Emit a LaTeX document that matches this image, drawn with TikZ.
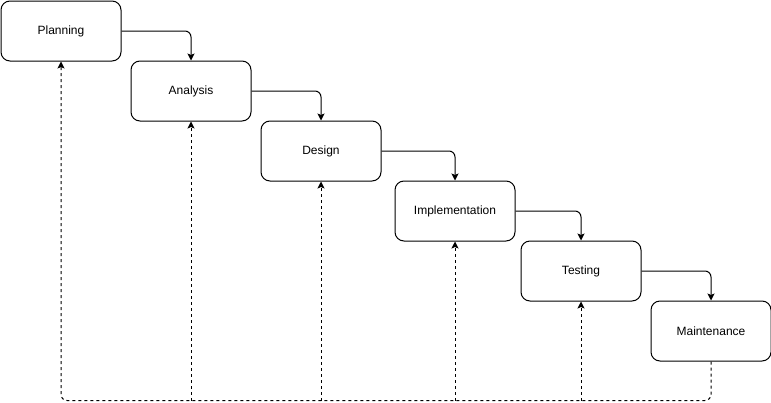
\documentclass[tikz,border=0pt]{standalone}
\usepackage{fontspec}
\setmainfont{Liberation Sans}
\usetikzlibrary{arrows.meta}
\begin{document}
\begin{tikzpicture}[x=1pt,y=-1pt,
  stage/.style={draw, line width=1pt, rounded corners=9pt, minimum width=120pt, minimum height=60pt,
    inner sep=0pt, font=\fontsize{12}{14}\selectfont, anchor=north west},
  flow/.style={draw, line width=1pt, rounded corners=6pt, -{Stealth[length=7pt,width=7pt,inset=1.5pt]}},
  back/.style={flow, dash pattern=on 3pt off 3pt}]
\useasboundingbox[fill=white] (0,0) rectangle (771,402);
\node[stage] (P) at (0.5,0.5) {Planning};
\node[stage] (A) at (130.5,60.5) {Analysis};
\node[stage] (D) at (260.5,120.5) {Design};
\node[stage] (I) at (394.5,180.5) {Implementation};
\node[stage] (T) at (520.5,240.5) {Testing};
\node[stage] (M) at (650.5,300.5) {Maintenance};
\coordinate (base) at (0,400.5);
\draw[flow] (P.east) -| (A.north);
\draw[flow] (A.east) -| (D.north);
\draw[flow] (D.east) -| (I.north);
\draw[flow] (I.east) -| (T.north);
\draw[flow] (T.east) -| (M.north);
\draw[back] (M.south) |- (base -| P.south) -- (P.south);
\draw[back] (base -| A.south) -- (A.south);
\draw[back] (base -| D.south) -- (D.south);
\draw[back] (base -| I.south) -- (I.south);
\draw[back] (base -| T.south) -- (T.south);
\end{tikzpicture}
\end{document}
